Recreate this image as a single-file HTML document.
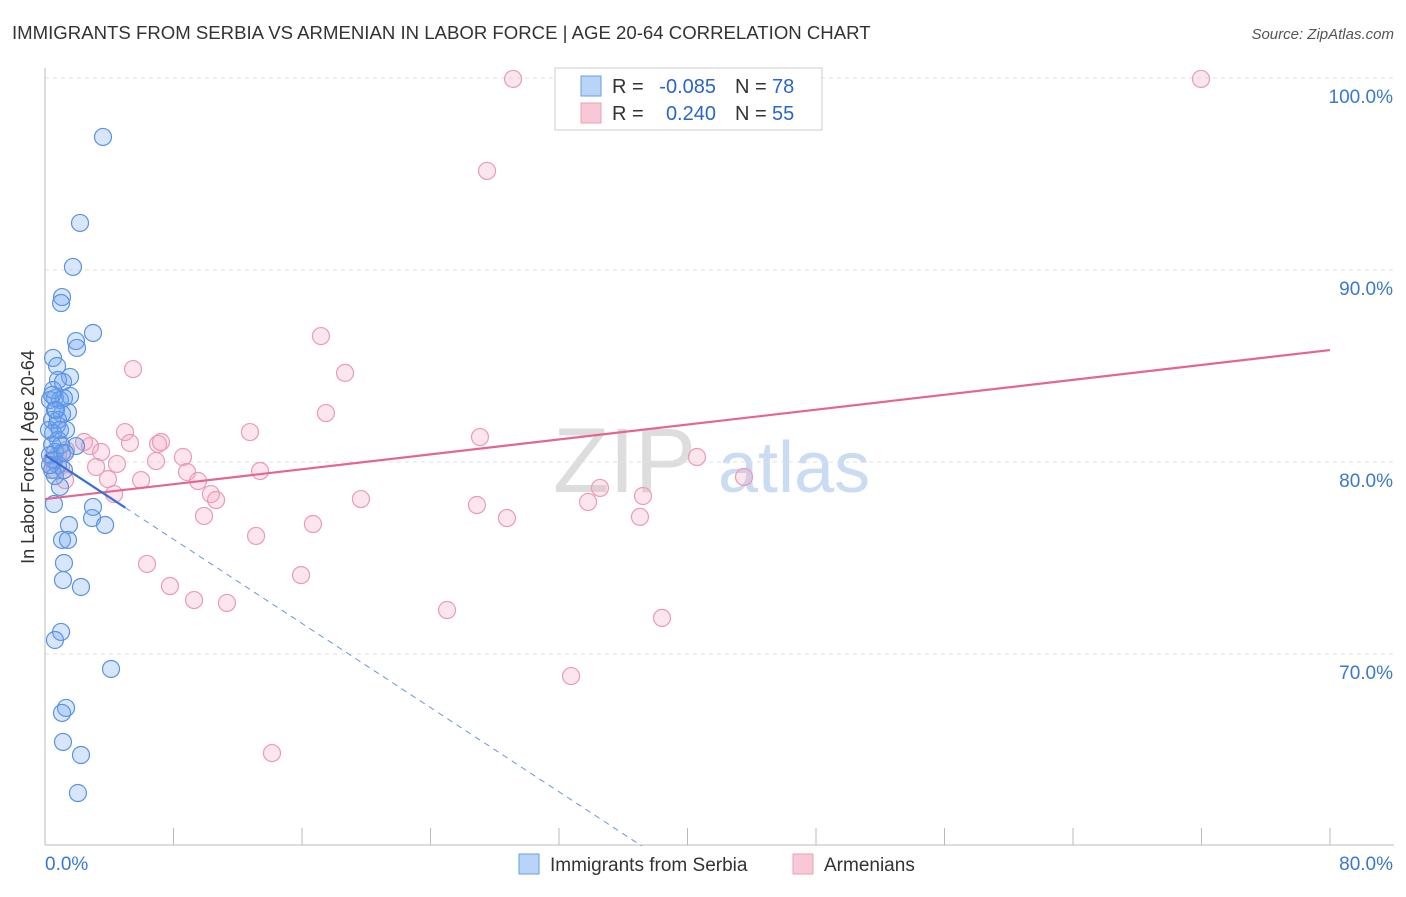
<!DOCTYPE html>
<html><head><meta charset="utf-8"><style>
body{margin:0;background:#fff;font-family:"Liberation Sans",sans-serif}
text{font-family:"Liberation Sans",sans-serif}
</style></head><body>
<svg id="chart" width="1406" height="892">
<text x="12" y="39" font-size="18.6" fill="#333">IMMIGRANTS FROM SERBIA VS ARMENIAN IN LABOR FORCE | AGE 20-64 CORRELATION CHART</text>
<text x="1394" y="39" font-size="15" fill="#555" text-anchor="end" font-style="italic">Source: ZipAtlas.com</text>
<g><text x="553" y="492" font-size="92" fill="#ddd" font-family="Liberation Serif">ZIP</text><text x="718" y="492" font-size="72" fill="#c9dcf3">atlas</text></g>
<g id="grid"></g><g id="axes"></g><g id="marks"></g>
<g>
<rect x="555" y="68" width="267" height="62" fill="#fff" stroke="#ccc"/>
<rect x="581" y="76" width="20" height="20" fill="#b8d4f6" stroke="#6a9ee0"/>
<rect x="581" y="103" width="20" height="20" fill="#f9c8d6" stroke="#eaa0b8"/>
<text x="612" y="93" font-size="20" fill="#333">R =</text>
<text x="716" y="93" font-size="20" fill="#2a66c8" text-anchor="end">-0.085</text>
<text x="735" y="93" font-size="20" fill="#333">N =</text>
<text x="772" y="93" font-size="20" fill="#2a66c8">78</text>
<text x="612" y="120" font-size="20" fill="#333">R =</text>
<text x="716" y="120" font-size="20" fill="#2a66c8" text-anchor="end">0.240</text>
<text x="735" y="120" font-size="20" fill="#333">N =</text>
<text x="772" y="120" font-size="20" fill="#2a66c8">55</text>
</g>
<g>
<rect x="519" y="854" width="20" height="20" fill="#b8d4f6" stroke="#6a9ee0"/>
<text x="550" y="871" font-size="19" fill="#333">Immigrants from Serbia</text>
<rect x="793" y="854" width="20" height="20" fill="#f9c8d6" stroke="#eaa0b8"/>
<text x="824" y="871" font-size="19" fill="#333">Armenians</text>
</g>
<text transform="translate(34,457) rotate(-90)" font-size="18" fill="#333" text-anchor="middle">In Labor Force | Age 20-64</text>
</svg>
<script>
const serbiaX=[3.61,2.18,1.74,1.06,1.00,2.99,1.93,1.99,0.50,0.75,1.56,0.81,1.12,1.56,0.62,0.93,1.18,1.43,0.62,1.06,0.44,0.75,1.31,0.50,0.81,0.44,1.93,0.62,1.06,0.31,0.56,0.81,0.44,0.62,0.93,2.99,0.56,1.49,2.93,3.74,1.06,1.43,1.18,1.12,2.24,1.00,0.62,4.11,1.31,1.06,1.12,2.24,2.05,0.31,0.5,0.81,1.0,0.25,0.68,1.25,0.31,0.93,0.44,1.18];
const serbiaY=[96.93,92.45,90.16,88.59,88.28,86.72,86.30,85.94,85.42,85.00,84.43,84.27,84.17,83.44,83.33,83.23,83.33,82.60,82.71,82.50,82.19,81.93,81.67,81.51,81.15,80.89,80.83,80.52,80.47,80.36,80.10,79.84,79.58,79.27,78.70,77.66,77.81,76.72,77.08,76.72,75.94,75.94,74.74,73.85,73.49,71.15,70.73,69.22,67.19,66.93,65.42,64.74,62.76,83.23,83.75,82.19,80.89,81.67,82.71,80.47,79.84,81.67,83.49,79.58];
const armX=[29.14,71.97,27.52,17.18,5.48,18.68,17.49,4.98,12.76,27.08,2.43,7.04,7.22,5.29,2.80,3.49,8.59,40.59,6.91,4.48,3.18,1.00,8.84,43.52,3.92,5.98,1.25,9.53,13.39,34.55,10.33,37.23,10.65,19.67,33.81,26.89,4.30,9.90,28.76,37.04,16.68,13.14,6.35,15.94,7.78,9.28,11.33,25.03,38.41,32.75,14.13,0.44,0.81,0.62,1.31];
const armY=[99.95,99.95,95.16,86.56,84.84,84.64,82.55,81.56,81.56,81.30,81.04,80.94,81.04,80.99,80.83,80.52,80.26,80.26,80.05,79.90,79.74,79.79,79.48,79.22,79.11,79.06,79.06,79.01,79.53,78.65,78.33,78.23,78.02,78.07,77.92,77.76,78.33,77.19,77.08,77.14,76.77,76.15,74.69,74.11,73.54,72.81,72.66,72.29,71.88,68.85,64.84,80.10,80.36,79.58,80.62];
const yTicks=[100,90,80,70];
const xTicks=[0,8,16,24,32,40,48,56,64,72,80];
const serbiaTrend=[80.36,-0.548];
const armTrend=[78.07,0.097];
const NS='http://www.w3.org/2000/svg';
const sx=v=>45+v*1285/80, sy=v=>78+(100-v)*19.2;
function mk(t,a,p){const e=document.createElementNS(NS,t);for(const k in a)e.setAttribute(k,a[k]);p.appendChild(e);return e;}
const grid=document.getElementById('grid'),axes=document.getElementById('axes'),marks=document.getElementById('marks');
yTicks.forEach(v=>{const l=mk('line',{x1:45,x2:1394,y1:sy(v),y2:sy(v),stroke:'#e2e2e2','stroke-dasharray':'4,4'},grid);


const t=mk('text',{x:1393,y:sy(v)+25,'font-size':19,fill:'#3a78d0','text-anchor':'end'},axes);t.textContent=v.toFixed(1)+'%';

});
const ax=mk('line',{x1:45,x2:1394,y1:845,y2:845,stroke:'#bbb'},axes);


const ay=mk('line',{x1:45,x2:45,y1:68,y2:845,stroke:'#bbb'},axes);


xTicks.forEach(v=>{const l=mk('line',{x1:sx(v),x2:sx(v),y1:828,y2:845,stroke:'#bbb'},axes);

});
[[0,45,'start'],[80,1393,'end']].forEach(([v,x,a])=>{const t=mk('text',{x:x,y:870,'font-size':19,fill:'#3a78d0','text-anchor':a},axes);t.textContent=v.toFixed(1)+'%';

});
armX.forEach((x,i)=>{const c=mk('circle',{cx:sx(x),cy:sy(armY[i]),r:8.5,fill:'rgba(245,165,190,0.28)',stroke:'#eb9ab5','stroke-width':1.2},marks);

});
serbiaX.forEach((x,i)=>{const c=mk('circle',{cx:sx(x),cy:sy(serbiaY[i]),r:8.5,fill:'rgba(110,165,240,0.28)',stroke:'#5b93e2','stroke-width':1.2},marks);

});
const at=mk('line',{x1:sx(0),y1:sy(armTrend[0]),x2:sx(80),y2:sy(armTrend[0]+armTrend[1]*80),stroke:'#e4668f','stroke-width':2.2},marks);


const xEnd=(60-serbiaTrend[0])/serbiaTrend[1];
const bs=mk('line',{x1:sx(0),y1:sy(serbiaTrend[0]),x2:sx(5),y2:sy(serbiaTrend[0]+serbiaTrend[1]*5),stroke:'#3a6fd8','stroke-width':2.2},marks);


const bd=mk('line',{x1:sx(5),y1:sy(serbiaTrend[0]+serbiaTrend[1]*5),x2:sx(xEnd),y2:sy(60),stroke:'#6a95dc','stroke-width':1,'stroke-dasharray':'6,5'},marks);


</script>
</body></html>
